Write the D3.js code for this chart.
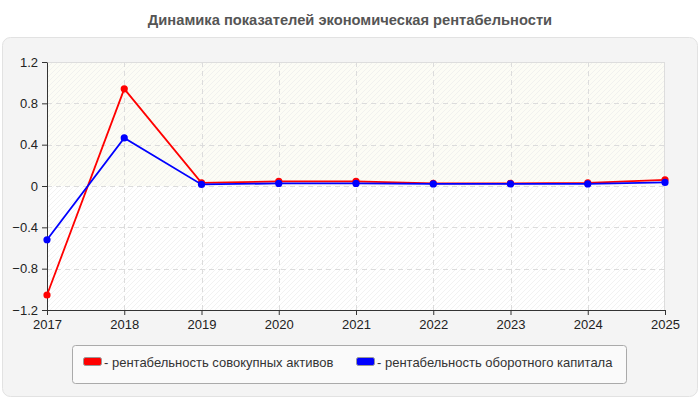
<!DOCTYPE html>
<html>
<head>
<meta charset="utf-8">
<script src="https://cdn.jsdelivr.net/npm/d3@7"></script>
<style>
  body { margin: 0; background: #fff; font-family: Arial, "Liberation Sans", sans-serif; }
</style>
</head>
<body>
<div id="chart"></div>
<script>
// data
const years = [2017, 2018, 2019, 2020, 2021, 2022, 2023, 2024, 2025];
const assetsRent = [-1.055, 0.94, 0.03, 0.045, 0.045, 0.025, 0.025, 0.03, 0.06];
const capitalRent = [-0.52, 0.465, 0.015, 0.025, 0.025, 0.02, 0.02, 0.02, 0.035];
const yTicks = [-1.2, -0.8, -0.4, 0, 0.4, 0.8, 1.2];
const seriesNames = ['- рентабельность совокупных активов', '- рентабельность оборотного капитала'];
const seriesColors = ['#ff0000', '#0000ff'];

const width = 700, height = 400;
const margin = { left: 47, right: 35, top: 62, bottom: 90 };

const svg = d3.select('#chart').append('svg')
  .attr('width', width).attr('height', height);

const defs = svg.append('defs');
const hatch = defs.append('pattern')
  .attr('id', 'hatch').attr('patternUnits', 'userSpaceOnUse')
  .attr('width', 5).attr('height', 5);
hatch.append('path').attr('d', 'M-1,6 L6,-1 M-1,1 L1,-1 M4,6 L6,4')
  .attr('stroke', '#ededed').attr('stroke-width', 0.7);

// title
svg.append('text')
  .attr('x', width / 2).attr('y', 25)
  .attr('text-anchor', 'middle')
  .attr('font-size', 14.7).attr('font-weight', 'bold').attr('fill', '#555')
  .text('Динамика показателей экономическая рентабельности');

// outer panel
svg.append('rect')
  .attr('x', 2.5).attr('y', 37.5).attr('width', 695).attr('height', 359)
  .attr('rx', 8).attr('fill', '#f4f4f4').attr('stroke', '#e2e2e2');

const x = d3.scaleLinear()
  .domain([d3.min(years), d3.max(years)])
  .range([margin.left, width - margin.right]);

const y = d3.scaleLinear()
  .domain([-1.2, 1.2])
  .range([height - margin.bottom, margin.top]);

// plot background
svg.append('rect')
  .attr('x', x.range()[0]).attr('y', y(1.2))
  .attr('width', x.range()[1] - x.range()[0]).attr('height', y(0) - y(1.2))
  .attr('fill', '#fcfcf5');
svg.append('rect')
  .attr('x', x.range()[0]).attr('y', y(0))
  .attr('width', x.range()[1] - x.range()[0]).attr('height', y(-1.2) - y(0))
  .attr('fill', '#ffffff');
svg.append('rect')
  .attr('x', x.range()[0]).attr('y', y(1.2))
  .attr('width', x.range()[1] - x.range()[0]).attr('height', y(-1.2) - y(1.2))
  .attr('fill', 'url(#hatch)');
svg.append('rect')
  .attr('x', x.range()[0] + 0.5).attr('y', y(1.2) + 0.5)
  .attr('width', x.range()[1] - x.range()[0] - 1).attr('height', y(-1.2) - y(1.2))
  .attr('fill', 'none').attr('stroke', '#dddddd');

// grid
svg.append('g').selectAll('line')
  .data(yTicks.filter(d => d > -1.2 && d < 1.2))
  .enter().append('line')
  .attr('x1', x.range()[0]).attr('x2', x.range()[1])
  .attr('y1', d => Math.round(y(d)) + 0.5).attr('y2', d => Math.round(y(d)) + 0.5)
  .attr('stroke', '#dcdcdc').attr('stroke-dasharray', '5,4');
svg.append('g').selectAll('line')
  .data(years.slice(1, -1))
  .enter().append('line')
  .attr('x1', d => Math.round(x(d)) + 0.5).attr('x2', d => Math.round(x(d)) + 0.5)
  .attr('y1', y(1.2)).attr('y2', y(-1.2))
  .attr('stroke', '#dcdcdc').attr('stroke-dasharray', '5,4');

// axes
const xAxis = svg.append('g')
  .attr('transform', `translate(0,${y(-1.2)})`)
  .call(d3.axisBottom(x).tickValues(years).tickFormat(d3.format('d')).tickSize(5).tickSizeOuter(0));
const yAxis = svg.append('g')
  .attr('transform', `translate(${x.range()[0]},0)`)
  .call(d3.axisLeft(y).tickValues(yTicks).tickFormat(d => d === 0 ? '0' : d3.format('.1f')(d)).tickSize(5).tickSizeOuter(0));
[xAxis, yAxis].forEach(a => {
  a.select('.domain').attr('stroke', '#333');
  a.selectAll('.tick line').attr('stroke', '#333');
  a.selectAll('.tick text').attr('font-size', 13).attr('fill', '#222')
    .attr('font-family', 'Arial, "Liberation Sans", sans-serif');
});
xAxis.selectAll('.tick text').attr('dy', '0.85em');
yAxis.selectAll('.tick text').attr('x', -9);

// lines
const line = d3.line().x((d, i) => x(years[i])).y(d => y(d));
[assetsRent, capitalRent].forEach((vals, k) => {
  svg.append('path')
    .datum(vals)
    .attr('d', line)
    .attr('fill', 'none')
    .attr('stroke', seriesColors[k])
    .attr('stroke-width', 1.8);
  svg.append('g').selectAll('circle')
    .data(vals)
    .enter().append('circle')
    .attr('cx', (d, i) => x(years[i]))
    .attr('cy', d => y(d))
    .attr('r', 3.6)
    .attr('fill', seriesColors[k]);
});

// legend
const lg = svg.append('g');
lg.append('rect')
  .attr('x', 72.5).attr('y', 345.5).attr('width', 554).attr('height', 38)
  .attr('rx', 3).attr('fill', '#fafafa').attr('stroke', '#aaaaaa');
const legendX = [83, 356];
seriesNames.forEach((name, k) => {
  lg.append('rect')
    .attr('x', legendX[k] + 0.5).attr('y', 357.5).attr('width', 18).attr('height', 8)
    .attr('rx', 2)
    .attr('fill', seriesColors[k]).attr('stroke', '#999');
  lg.append('text')
    .attr('x', legendX[k] + 21).attr('y', 366.5)
    .attr('font-size', 13).attr('fill', '#333')
    .text(name);
});
</script>
</body>
</html>
